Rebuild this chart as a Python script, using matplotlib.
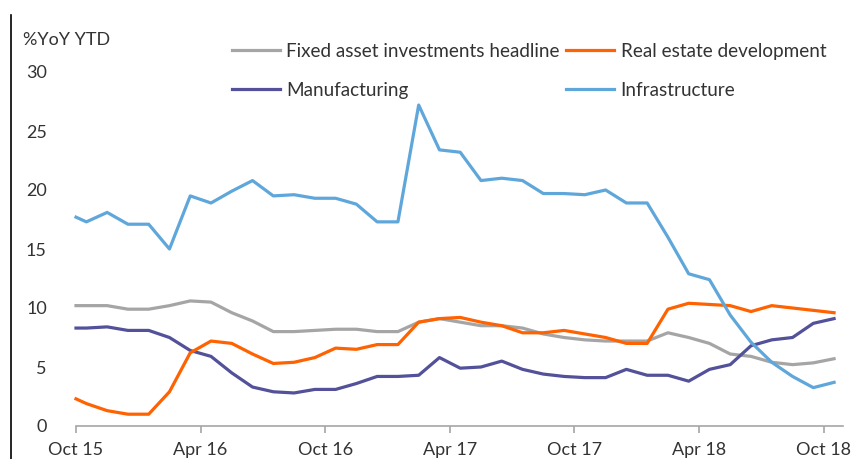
import matplotlib
matplotlib.use("Agg")
import matplotlib.pyplot as plt
from matplotlib.lines import Line2D
import numpy as np

# monthly YTD growth, Oct 15 .. Oct 18 (first value sits on the Oct 15 tick)
fai_headline = [10.2, 10.2, 10.2, 9.9, 9.9, 10.2, 10.6, 10.5, 9.6, 8.9, 8.0, 8.0,
                8.1, 8.2, 8.2, 8.0, 8.0, 8.8, 9.1, 8.8, 8.5, 8.5, 8.3, 7.8,
                7.5, 7.3, 7.2, 7.2, 7.2, 7.9, 7.5, 7.0, 6.1, 5.9, 5.4, 5.2,
                5.35, 5.7]
real_estate = [2.3, 1.9, 1.3, 1.0, 1.0, 2.9, 6.2, 7.2, 7.0, 6.1, 5.3, 5.4,
               5.8, 6.6, 6.5, 6.9, 6.9, 8.8, 9.1, 9.2, 8.8, 8.5, 7.9, 7.9,
               8.1, 7.8, 7.5, 7.0, 7.0, 9.9, 10.4, 10.3, 10.2, 9.7, 10.2, 10.0,
               9.8, 9.6]
manufacturing = [8.3, 8.3, 8.4, 8.1, 8.1, 7.5, 6.4, 5.9, 4.5, 3.3, 2.9, 2.8,
                 3.1, 3.1, 3.6, 4.2, 4.2, 4.3, 5.8, 4.9, 5.0, 5.5, 4.8, 4.4,
                 4.2, 4.1, 4.1, 4.8, 4.3, 4.3, 3.8, 4.8, 5.2, 6.8, 7.3, 7.5,
                 8.7, 9.1]
infrastructure = [17.7, 17.3, 18.1, 17.1, 17.1, 15.0, 19.5, 18.9, 19.9, 20.8, 19.5, 19.6,
                  19.3, 19.3, 18.8, 17.3, 17.3, 27.2, 23.4, 23.2, 20.8, 21.0, 20.8, 19.7,
                  19.7, 19.6, 20.0, 18.9, 18.9, 16.0, 12.9, 12.4, 9.4, 7.1, 5.4, 4.2,
                  3.25, 3.7]

tick_labels = ["Oct 15", "Apr 16", "Oct 16", "Apr 17", "Oct 17", "Apr 18", "Oct 18"]
y_ticks = [0, 5, 10, 15, 20, 25, 30]

# x in months from Oct 15; points after the first sit mid-month
n = len(infrastructure)
x = np.concatenate([[0.0], np.arange(1, n) - 0.5])

W, H = 862, 459
fig = plt.figure(figsize=(W / 100, H / 100), dpi=100)
ax = fig.add_axes([76 / W, 33 / H, (843 - 76) / W, (426 - 72) / H])

LW = 2.3
ax.plot(x, fai_headline, color="#A5A5A5", lw=LW, label="Fixed asset investments headline", clip_on=False)
ax.plot(x, manufacturing, color="#525199", lw=LW, label="Manufacturing", clip_on=False)
ax.plot(x, real_estate, color="#FF6200", lw=LW, label="Real estate development", clip_on=False)
ax.plot(x, infrastructure, color="#5FA7DB", lw=LW, label="Infrastructure", clip_on=False)

ax.set_xlim(0, 36.93)
ax.set_ylim(0, 30)
ax.set_xticks(np.arange(0, 37, 6))
ax.set_xticklabels(tick_labels, fontsize=13, family="Lato", color="#333333")
ax.set_yticks(y_ticks)
ax.set_yticklabels([str(v) for v in y_ticks], fontsize=13, family="Lato", color="#333333")

for s in ["top", "right", "left"]:
    ax.spines[s].set_visible(False)
ax.spines["bottom"].set_color("#A6A6A6")
ax.spines["bottom"].set_linewidth(1.2)
ax.tick_params(axis="x", direction="out", length=5, width=1.2, color="#A6A6A6", pad=6.5)
ax.tick_params(axis="y", length=0, pad=21)

fig.text(23 / W, 1 - 40 / H, "%YoY YTD", fontsize=13, family="Lato", color="#333333", va="center", ha="left")

fig.legend(loc="upper left", bbox_to_anchor=(232 / W, 1 - 43 / H), ncol=2, frameon=False,
           prop={"family": "Lato", "size": 13.6}, handlelength=2.55, handletextpad=0.32,
           columnspacing=0.35, labelspacing=1.15, borderpad=0, borderaxespad=0,
           labelcolor="#333333")

# left edge rule of the original image
fig.add_artist(Line2D([11.5 / W, 11.5 / W], [0, 1 - 15 / H], color="black", lw=1.2))

fig.savefig("out.png", dpi=100)
